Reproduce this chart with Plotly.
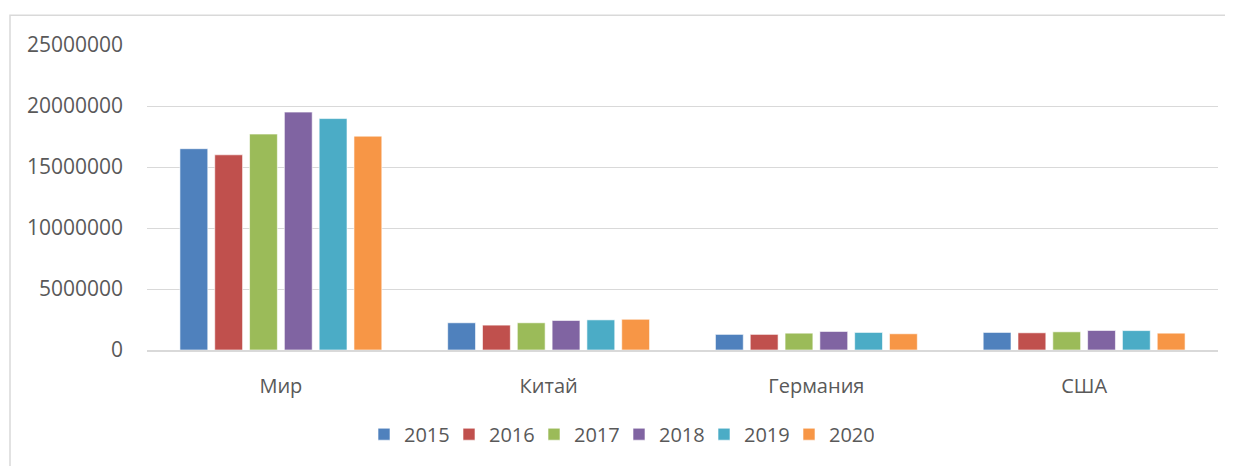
import plotly.graph_objects as go

categories = ["Мир", "Китай", "Германия", "США"]
years = ["2015", "2016", "2017", "2018", "2019", "2020"]
values_2015 = [16500000, 2230000, 1280000, 1440000]
values_2016 = [16000000, 2040000, 1280000, 1410000]
values_2017 = [17700000, 2230000, 1380000, 1490000]
values_2018 = [19500000, 2420000, 1520000, 1600000]
values_2019 = [18970000, 2470000, 1440000, 1590000]
values_2020 = [17530000, 2520000, 1330000, 1380000]
series = [values_2015, values_2016, values_2017, values_2018, values_2019, values_2020]
colors = ["#4F81BD", "#C0504D", "#9BBB59", "#8064A2", "#4BACC6", "#F79646"]
y_ticks = [0, 5000000, 10000000, 15000000, 20000000, 25000000]

fig = go.Figure()
for name, vals, col in zip(years, series, colors):
    fig.add_trace(go.Bar(
        x=categories, y=vals, name=name,
        marker=dict(color=col, line=dict(color="rgba(255,255,255,0.6)", width=1)),
    ))

# page body has an 8px margin; compensate so the chart sits where the reference does
OFF = 8
W, H = 1233 - OFF, 466 - OFF
L, T = 147 - OFF, 45 - OFF
plot_bottom = 353 - OFF
plot_right = 1218 - OFF
R, B = W - plot_right, H - plot_bottom
pw, ph = W - L - R, H - T - B

def px_x(x):
    return (x - OFF - L) / pw

def px_y(y):
    return (plot_bottom - (y - OFF)) / ph

fig.update_layout(
    width=W, height=H,
    margin=dict(l=L, r=R, t=T, b=B),
    paper_bgcolor="white", plot_bgcolor="white",
    barmode="group", bargap=0.22, bargroupgap=0.2,
    font=dict(family="Open Sans, sans-serif", color="#595959"),
    showlegend=True,
    legend=dict(orientation="h", x=px_x(619), xanchor="center", y=px_y(438), yanchor="middle",
                font=dict(size=20, color="#595959"), itemwidth=30, traceorder="normal",
                entrywidth=40, entrywidthmode="pixels"),
    shapes=[
        dict(type="rect", xref="paper", yref="paper",
             x0=px_x(10), x1=px_x(1250),
             y0=px_y(490), y1=px_y(15),
             line=dict(color="#D9D9D9", width=1.5), fillcolor="rgba(0,0,0,0)", layer="below"),
    ],
)
fig.update_yaxes(range=[0, 25000000], tickvals=y_ticks, ticktext=[str(v) for v in y_ticks],
                 showgrid=True, gridcolor="#D9D9D9", gridwidth=1.3, zeroline=False,
                 showline=False, tickfont=dict(size=21, color="#595959"), ticklabelstandoff=23)
fig.update_xaxes(showline=True, linecolor="#D9D9D9", linewidth=1.5, ticks="outside",
                 ticklen=17, tickcolor="rgba(0,0,0,0)", tickfont=dict(size=20, color="#595959"))

fig.write_html("out.html")
